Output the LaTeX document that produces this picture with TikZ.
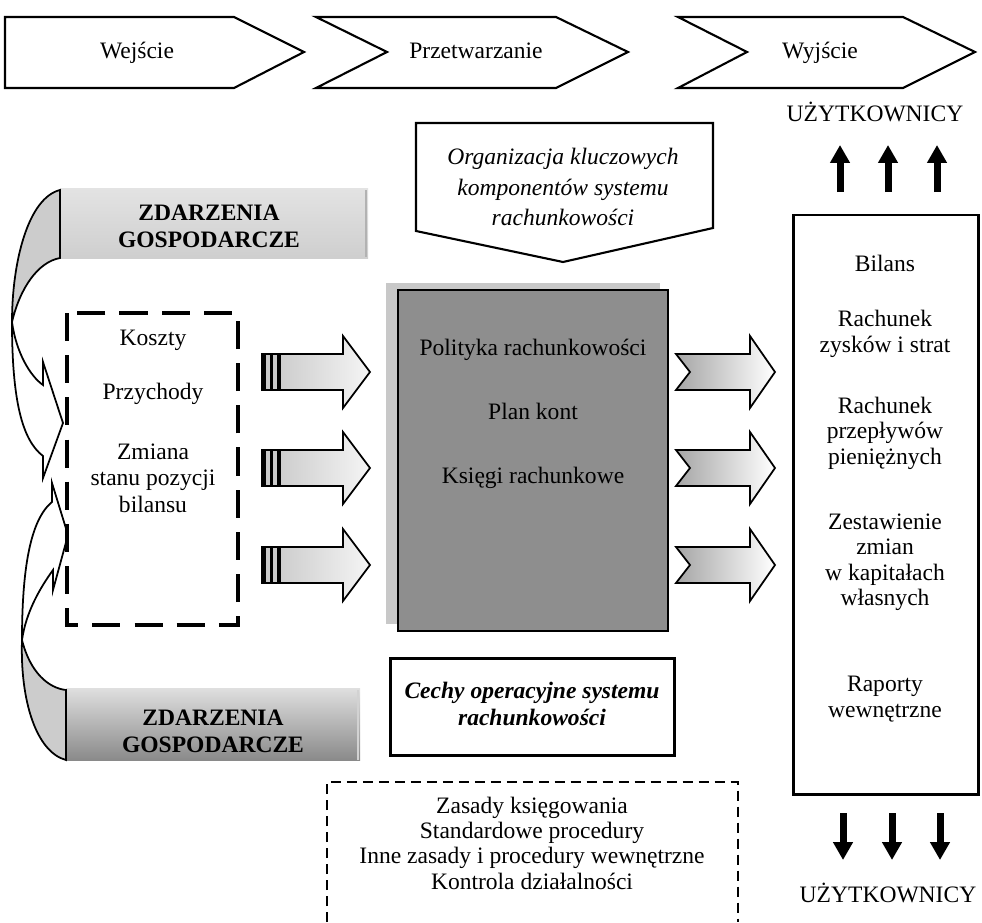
\documentclass[tikz,border=0pt]{standalone}
\usepackage{fontspec}
\setmainfont{Liberation Serif}
\usetikzlibrary{arrows.meta}

\definecolor{corefill}{RGB}{142,142,142}
\definecolor{corerim}{RGB}{200,200,200}
\definecolor{evlight}{RGB}{180,180,180}
\definecolor{evdark}{RGB}{138,138,138}
\definecolor{backface}{RGB}{204,204,204}

\begin{document}
\begin{tikzpicture}[x=0.02cm,y=-0.02cm,
  lbl/.style={inner sep=0pt, align=center, font=\fontsize{13.4}{15}\selectfont},
  baselbl/.style={lbl, anchor=base},
  lblwide/.style={lbl, font=\fontsize{13.4}{17.4}\selectfont},
  lbltight/.style={lbl, font=\fontsize{13.4}{14.4}\selectfont},
  evlbl/.style={lbl, font=\fontsize{13.4}{15.3}\selectfont\bfseries},
  outline/.style={draw=black, line width=1.2pt, line join=miter},
  framebox/.style={draw=black, line width=1.7pt},
  userarrow/.style={line width=4pt, -{Triangle[length=0.36cm, width=0.38cm]}},
  blockarrow/.style={draw=black, line width=1pt, line join=miter},
]
\useasboundingbox (0,0) rectangle (982,922);

% ---- process chevrons ----
\draw[outline, fill=white] (5,17) -- (234,17) -- (304,52) -- (234,88) -- (5,88) -- cycle;
\draw[outline, fill=white] (316,17) -- (556,17) -- (628,52) -- (556,88) -- (316,88) -- (387,52) -- cycle;
\draw[outline, fill=white] (678,17) -- (903,17) -- (975,52) -- (903,88) -- (678,88) -- (747,52) -- cycle;
\node[baselbl] (wej) at (137,59) {Wejście};
\node[baselbl] (prz) at (476,59) {Przetwarzanie};
\node[baselbl] (wyj) at (820,59) {Wyjście};

% ---- economic events boxes ----
\shade[top color=gray!22, middle color=evlight, bottom color=gray!38] (60,188) rectangle (368,258);
\draw[gray!60, line width=1pt] (366,190) -- (366,257);
\node[evlbl] (evtop) at (209,226) {ZDARZENIA\\GOSPODARCZE};

\shade[top color=gray!25, middle color=evdark, bottom color=evdark] (66,688) rectangle (360,760);
\draw[gray!35, line width=1pt] (358,690) -- (358,760);
\node[evlbl] (evbot) at (213,731) {ZDARZENIA\\GOSPODARCZE};

% ---- curved arrows from the event boxes ----
\draw[line width=1pt, fill=backface] (60,190) .. controls (28,198) and (12,262) .. (12,322)
  .. controls (20,288) and (38,262) .. (60,258) -- cycle;
\draw[line width=1pt, fill=white, line join=miter] (12,322) .. controls (16,352) and (30,376) .. (43,385)
  -- (43,362) -- (63,423) -- (43,478) -- (43,456)
  .. controls (22,440) and (12,400) .. (12,322) -- cycle;

\draw[line width=1pt, fill=backface] (66,760) .. controls (36,752) and (20,700) .. (22,640)
  .. controls (30,672) and (48,688) .. (66,690) -- cycle;
\draw[line width=1pt, fill=white, line join=miter] (22,640) .. controls (26,612) and (40,588) .. (53,570)
  -- (53,590) -- (68,535) -- (52,483) -- (52,502)
  .. controls (30,520) and (22,570) .. (22,640) -- cycle;

% ---- input categories ----
\draw[line width=2.3pt, dash pattern=on 16pt off 8pt] (67,313) rectangle (238,625);
\node[baselbl] (koszty) at (153,345) {Koszty};
\node[baselbl] (przych) at (153,399) {Przychody};
\node[lbl] (zmiana) at (153,478) {Zmiana\\stanu pozycji\\bilansu};

% ---- input block arrows ----
\foreach \c/\n in {372/1,468/2,565/3}{
  \path[blockarrow, left color=gray!45, right color=gray!8]
    (262,\c-18) -- (343,\c-18) -- (343,\c-36) -- (370,\c) -- (343,\c+36) -- (343,\c+18) -- (262,\c+18) -- cycle;
  \fill (262,\c-18) rectangle (266,\c+18);
  \fill (270,\c-18) rectangle (273,\c+18);
  \fill (277,\c-18) rectangle (281,\c+18);
}

% ---- key components (top callout) ----
\draw[outline, fill=white] (416,123) -- (713,123) -- (713,228) -- (563,262) -- (416,231) -- cycle;
\node[lblwide, font=\fontsize{13.4}{17.4}\selectfont\itshape] (org) at (563,187)
  {Organizacja kluczowych\\komponentów systemu\\rachunkowości};

% ---- core of the accounting system ----
\fill[corerim] (386,283) rectangle (660,624);
\draw[line width=1.3pt, fill=corefill] (398,290) rectangle (668,631);
\node[baselbl] (polityka) at (533,355) {Polityka rachunkowości};
\node[baselbl] (plan) at (533,419) {Plan kont};
\node[baselbl] (ksiegi) at (533,483) {Księgi rachunkowe};

% ---- output block arrows ----
\foreach \c/\n in {372/1,468/2,565/3}{
  \path[blockarrow, left color=gray!70, right color=white]
    (676,\c-18) -- (750,\c-18) -- (750,\c-36) -- (775,\c) -- (750,\c+36) -- (750,\c+18) -- (676,\c+18) -- (690,\c) -- cycle;
}

% ---- operational features ----
\draw[framebox] (390,658) rectangle (674,755);
\node[lbl, font=\fontsize{13.4}{15.3}\selectfont\bfseries\itshape] (cechy) at (532,704)
  {Cechy operacyjne systemu\\rachunkowości};

\draw[line width=1.5pt, dash pattern=on 5.7pt off 3.4pt] (327,922) -- (327,782) -- (738,782) -- (738,922);
\node[lbltight] (zasady) at (532,843)
  {Zasady księgowania\\Standardowe procedury\\Inne zasady i procedury wewnętrzne\\Kontrola działalności};

% ---- financial statements ----
\draw[framebox] (793,215) rectangle (978,794);
\node[baselbl] (bilans) at (885,271) {Bilans};
\node[lbl, font=\fontsize{13.4}{14.5}\selectfont] (rzis) at (885,334) {Rachunek\\zysków i strat};
\node[lbl, font=\fontsize{13.4}{14.5}\selectfont] (rpp) at (885,433) {Rachunek\\przepływów\\pieniężnych};
\node[lbl, font=\fontsize{13.4}{14.5}\selectfont] (zzk) at (885,562) {Zestawienie\\zmian\\w kapitałach\\własnych};
\node[lbl, font=\fontsize{13.4}{14.5}\selectfont] (rw) at (885,699) {Raporty\\wewnętrzne};

% ---- users ----
\node[baselbl] (usrtop) at (875,122) {UŻYTKOWNICY};
\node[baselbl] (usrbot) at (888,902) {UŻYTKOWNICY};

\coordinate (ua1) at (840,192); \coordinate (ub1) at (840,145);
\coordinate (ua2) at (888,192); \coordinate (ub2) at (888,145);
\coordinate (ua3) at (937,192); \coordinate (ub3) at (937,145);
\draw[userarrow] (ua1) -- (ub1);
\draw[userarrow] (ua2) -- (ub2);
\draw[userarrow] (ua3) -- (ub3);

\coordinate (da1) at (843,813); \coordinate (db1) at (843,860);
\coordinate (da2) at (892,813); \coordinate (db2) at (892,860);
\coordinate (da3) at (940,813); \coordinate (db3) at (940,860);
\draw[userarrow] (da1) -- (db1);
\draw[userarrow] (da2) -- (db2);
\draw[userarrow] (da3) -- (db3);
\end{tikzpicture}
\end{document}
